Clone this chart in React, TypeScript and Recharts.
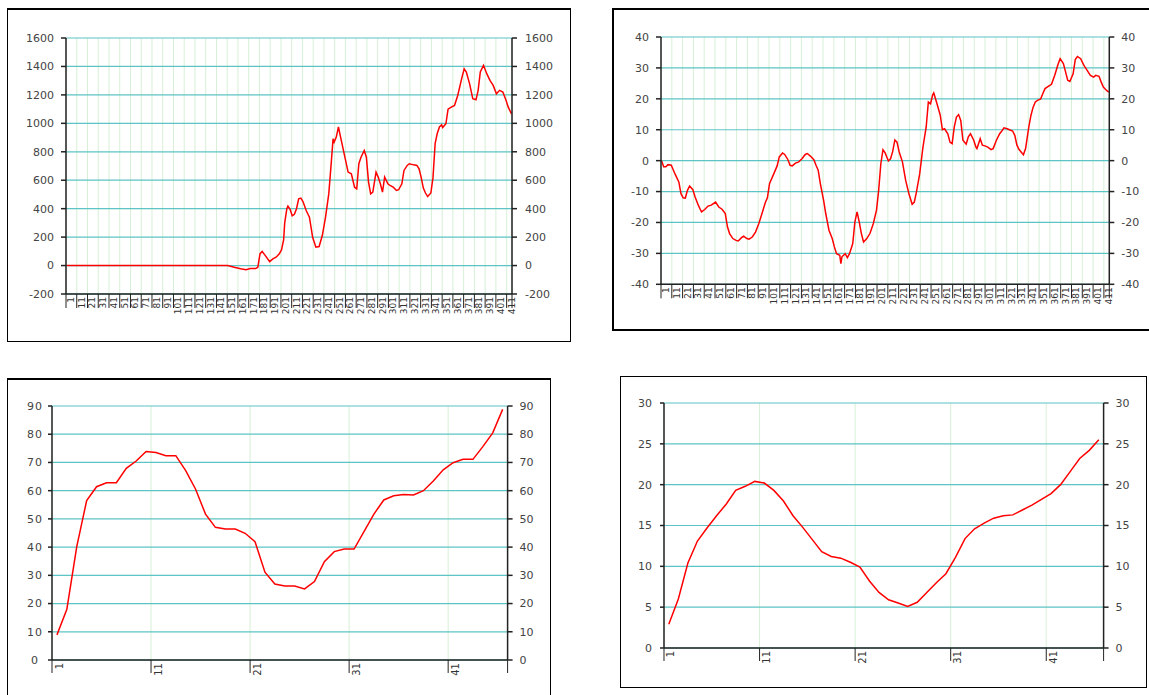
import React from 'react';
import { LineChart, Line, XAxis, YAxis, CartesianGrid } from 'recharts';

// ---------- data ----------
const tlIdx = [1, 151, 157, 163, 168, 172, 177, 179, 181, 183, 186, 190, 193, 196, 199, 201, 203, 204, 206, 207, 209, 211, 213, 215, 217, 219, 221, 224, 227, 230, 233, 236, 239, 242, 245, 247, 249, 250, 252, 254, 256, 260, 263, 266, 269, 271, 273, 275, 278, 280, 282, 284, 286, 289, 291, 293, 295, 297, 300, 302, 305, 308, 310, 313, 315, 318, 320, 324, 327, 329, 331, 333, 335, 337, 340, 342, 344, 346, 348, 350, 351, 354, 356, 359, 362, 365, 369, 371, 373, 376, 379, 382, 384, 386, 389, 392, 395, 398, 401, 404, 407, 410, 412, 415];
const tlVal = [0, 0, -12, -23, -30, -21, -21, -12, 82, 100, 70, 28, 47, 59, 82, 110, 180, 300, 400, 418, 395, 350, 360, 400, 469, 474, 450, 387, 340, 199, 129, 134, 211, 340, 504, 692, 891, 868, 903, 974, 903, 762, 657, 645, 551, 540, 716, 762, 809, 762, 587, 504, 516, 657, 622, 575, 516, 622, 575, 563, 551, 528, 533, 575, 669, 704, 716, 708, 704, 680, 620, 545, 510, 485, 510, 620, 860, 930, 975, 990, 970, 997, 1100, 1114, 1126, 1196, 1325, 1384, 1361, 1279, 1173, 1166, 1232, 1361, 1408, 1349, 1302, 1267, 1208, 1232, 1220, 1161, 1114, 1067];

const trIdx = [1, 3, 5, 7, 10, 12, 14, 17, 19, 21, 23, 25, 27, 30, 32, 35, 38, 41, 44, 47, 51, 54, 57, 60, 62, 64, 67, 70, 72, 75, 77, 80, 82, 85, 88, 91, 94, 97, 99, 101, 105, 108, 110, 113, 115, 118, 120, 122, 125, 128, 131, 134, 136, 139, 142, 144, 146, 148, 151, 153, 156, 159, 161, 163, 166, 167, 168, 171, 173, 175, 178, 180, 182, 184, 186, 188, 191, 194, 197, 200, 202, 204, 206, 208, 211, 213, 215, 217, 219, 221, 224, 227, 230, 233, 235, 237, 240, 243, 246, 248, 250, 252, 253, 256, 259, 261, 263, 266, 268, 270, 272, 274, 276, 278, 280, 283, 285, 287, 290, 292, 293, 296, 298, 301, 303, 306, 308, 311, 314, 316, 318, 321, 323, 326, 328, 330, 332, 335, 336, 338, 341, 343, 345, 347, 349, 352, 354, 356, 359, 362, 365, 368, 370, 373, 375, 377, 379, 382, 384, 386, 389, 392, 395, 398, 401, 403, 406, 408, 410, 413, 415];
const trVal = [0, -2, -2, -1.3, -1.5, -3.1, -4.7, -6.9, -10.7, -12, -12.1, -9.6, -8.2, -9.4, -11.7, -14.4, -16.6, -15.8, -14.7, -14.4, -13.4, -15, -15.7, -17.1, -21.4, -23.6, -25.2, -25.8, -26, -24.9, -24.4, -25.2, -25.4, -24.7, -23.1, -20.4, -17.1, -13.6, -12, -7.4, -4.2, -1.7, 1.2, 2.5, 2, 0.3, -1.5, -1.7, -0.8, -0.4, 0.6, 2, 2.3, 1.4, 0.3, -1.5, -3.1, -7.4, -12.8, -17.1, -22.5, -25.2, -27.9, -30.1, -30.6, -33.3, -31.1, -30.1, -31.4, -30.1, -26.8, -19.8, -16.6, -19.8, -23.6, -26.3, -25.2, -23.5, -20.4, -16, -9.6, -1, 3.5, 2.5, -0.1, 0.6, 3, 6.7, 6, 2.8, -0.4, -6.4, -10.7, -14.1, -13.4, -10.1, -4.2, 4.4, 10.9, 19, 18.4, 21.3, 21.9, 18.4, 14.7, 10, 10.3, 8.7, 6, 5.5, 10.9, 14.1, 14.9, 13, 6.6, 5.3, 7.7, 8.7, 6.6, 4.4, 3.9, 7.1, 5, 4.7, 4.4, 3.6, 3.9, 6.6, 8.7, 9.6, 10.6, 10.3, 10, 9.6, 8.2, 5, 3.6, 2.3, 1.9, 3.9, 10.9, 14.7, 17.3, 19, 19.5, 20, 21.7, 23.3, 24, 24.7, 27.6, 31.1, 33, 31.4, 28.7, 26, 25.6, 28.1, 32.7, 33.7, 33, 30.8, 29.2, 27.6, 27, 27.6, 27.3, 25.4, 23.8, 22.7, 22.2];

const blVal = [8.9, 18.0, 40.2, 56.5, 61.4, 62.8, 62.8, 67.9, 70.5, 73.9, 73.5, 72.4, 72.4, 67.1, 60.5, 51.7, 47.0, 46.4, 46.4, 44.9, 41.9, 31.1, 26.9, 26.2, 26.2, 25.2, 27.8, 34.8, 38.4, 39.3, 39.3, 45.5, 51.7, 56.7, 58.2, 58.6, 58.5, 60.0, 63.4, 67.4, 69.9, 71.1, 71.1, 75.6, 80.5, 88.8];
const brVal = [2.9, 6.0, 10.4, 13.1, 14.7, 16.2, 17.6, 19.3, 19.8, 20.4, 20.2, 19.3, 18.0, 16.2, 14.8, 13.3, 11.8, 11.2, 11.0, 10.5, 9.9, 8.2, 6.8, 5.9, 5.5, 5.1, 5.6, 6.8, 8.0, 9.1, 11.1, 13.4, 14.6, 15.3, 15.9, 16.2, 16.3, 16.9, 17.5, 18.2, 18.9, 20.0, 21.6, 23.2, 24.2, 25.5];

const topCount = 415;
const bottomCount = 46;
const topTickCats = [1, 11, 21, 31, 41, 51, 61, 71, 81, 91, 101, 111, 121, 131, 141, 151, 161, 171, 181, 191, 201, 211, 221, 231, 241, 251, 261, 271, 281, 291, 301, 311, 321, 331, 341, 351, 361, 371, 381, 391, 401, 411];
const bottomTickCats = [1, 11, 21, 31, 41];

const tlYTicks = [-200, 0, 200, 400, 600, 800, 1000, 1200, 1400, 1600];
const trYTicks = [-40, -30, -20, -10, 0, 10, 20, 30, 40];
const blYTicks = [0, 10, 20, 30, 40, 50, 60, 70, 80, 90];
const brYTicks = [0, 5, 10, 15, 20, 25, 30];

// ---------- helpers ----------
const FONT = 'DejaVu Sans, Verdana, sans-serif';
const RED = '#ff0000';
const HGRID = '#5cc4c4';
const VGRID = '#d6f0d6';
const AXIS = '#222';

const zip = (idx: number[], vals: number[]) => idx.map((c, k) => ({ pos: c - 0.5, v: vals[k] }));
const seq = (vals: number[]) => vals.map((v, k) => ({ pos: k + 0.5, v }));

const tlData = zip(tlIdx, tlVal);
const trData = zip(trIdx, trVal);
const blData = seq(blVal);
const brData = seq(brVal);

function makeXTick(fs: number, dx: number, len: number) {
  return (props: any) => {
    const { x, y, payload } = props;
    const pos = payload.value;
    const label = topTickCats.includes(pos + 1) ? String(pos + 1) : '';
    const ax = x + dx;
    const ay = y + 3;
    return (
      <g>
        <line x1={x} y1={y} x2={x} y2={y + len} stroke={AXIS} strokeWidth={1} />
        {label && (
          <text x={ax} y={ay} transform={`rotate(-90 ${ax} ${ay})`} textAnchor="end" fontSize={fs} fill="#333" fontFamily={FONT}>
            {label}
          </text>
        )}
      </g>
    );
  };
}

const centeredYTick = (offset: number) => (props: any) => {
  const { x, y, payload } = props;
  return (
    <text x={x - offset} y={y} dy="0.355em" textAnchor="middle" fontSize={11} fill="#444" fontFamily={FONT} letterSpacing={1}>
      {payload.value}
    </text>
  );
};

type PanelProps = {
  data: { pos: number; v: number }[];
  plot: [number, number, number, number];
  count: number;
  tickCats: number[];
  yTicks: number[];
  xfs: number;
  xdx: number;
  xlen: number;
  leftTick?: any;
  leftTickSize: number;
  leftTickMargin: number;
  rightTickMargin: number;
};

function Panel(p: PanelProps) {
  const [pl, pt, pr, pb] = p.plot;
  const side = 70;
  const w = pr - pl + side * 2;
  const h = pb - pt + 10 + 40;
  const xTicks = [...p.tickCats.map((c) => c - 1), p.count];
  const dom: [number, number] = [p.yTicks[0], p.yTicks[p.yTicks.length - 1]];
  const tickStyle = { fontSize: 11, fill: '#444', fontFamily: FONT };
  return (
    <div style={{ position: 'absolute', left: pl - side, top: pt - 10, width: w, height: h }}>
      <LineChart width={w} height={h} data={p.data} margin={{ top: 10, right: 0, bottom: 0, left: 0 }}>
        <CartesianGrid yAxisId="l" vertical={true} horizontal={false} stroke={VGRID} strokeWidth={1} />
        <CartesianGrid yAxisId="l" vertical={false} horizontal={true} stroke={HGRID} strokeWidth={1.2} />
        <XAxis
          dataKey="pos"
          type="number"
          domain={[0, p.count]}
          ticks={xTicks}
          interval={0}
          height={40}
          tickSize={0}
          tickMargin={0}
          tickLine={false}
          axisLine={{ stroke: AXIS, strokeWidth: 1.5 }}
          tick={makeXTick(p.xfs, p.xdx, p.xlen)}
          allowDataOverflow
        />
        <YAxis
          yAxisId="l"
          orientation="left"
          width={side}
          domain={dom}
          ticks={p.yTicks}
          interval={0}
          tickSize={p.leftTickSize}
          tickMargin={p.leftTickMargin}
          axisLine={{ stroke: AXIS, strokeWidth: 1.5 }}
          tickLine={{ stroke: AXIS, strokeWidth: 1.5 }}
          tick={p.leftTick ? p.leftTick : tickStyle}
          allowDataOverflow
        />
        <YAxis
          yAxisId="r"
          orientation="right"
          width={side}
          domain={dom}
          ticks={p.yTicks}
          interval={0}
          tickSize={5}
          tickMargin={p.rightTickMargin}
          axisLine={{ stroke: AXIS, strokeWidth: 1.5 }}
          tickLine={{ stroke: AXIS, strokeWidth: 1.5 }}
          tick={tickStyle}
          allowDataOverflow
        />
        <Line yAxisId="l" dataKey="v" type="linear" stroke={RED} strokeWidth={1.5} dot={false} isAnimationActive={false} />
      </LineChart>
    </div>
  );
}

const box = (left: number, top: number, width: number, height: number, extra: React.CSSProperties = {}): React.CSSProperties => ({
  position: 'absolute',
  left,
  top,
  width,
  height,
  boxSizing: 'border-box',
  border: '1px solid #000',
  background: '#fff',
  ...extra,
});

export default function App() {
  return (
    <div style={{ position: 'fixed', left: 0, top: 0, width: 1149, height: 695, overflow: 'hidden', background: '#fff', fontFamily: FONT }}>
      <div style={box(7, 8, 564, 334, { borderTopWidth: 2 })} />
      <div style={box(612, 8, 560, 323, { borderTopWidth: 2, borderLeftWidth: 2, borderBottomWidth: 2 })} />
      <div style={box(7, 378, 544, 340, { borderTopWidth: 2 })} />
      <div style={box(620, 376, 527, 312)} />

      <Panel data={tlData} plot={[65.7, 37.7, 511.7, 293.7]} count={topCount} tickCats={topTickCats} yTicks={tlYTicks}
        xfs={9} xdx={8} xlen={14} leftTickSize={5} leftTickMargin={7} rightTickMargin={8} />
      <Panel data={trData} plot={[661, 36.7, 1109.3, 284]} count={topCount} tickCats={topTickCats} yTicks={trYTicks}
        xfs={9} xdx={8} xlen={14} leftTickSize={5} leftTickMargin={7} rightTickMargin={7} />
      <Panel data={blData} plot={[51.7, 406, 507.3, 660]} count={bottomCount} tickCats={bottomTickCats} yTicks={blYTicks}
        xfs={10} xdx={11} xlen={13} leftTick={centeredYTick(13)} leftTickSize={4} leftTickMargin={0} rightTickMargin={7} />
      <Panel data={brData} plot={[663.7, 403.3, 1103.3, 648.3]} count={bottomCount} tickCats={bottomTickCats} yTicks={brYTicks}
        xfs={10} xdx={10.5} xlen={13} leftTickSize={4} leftTickMargin={8} rightTickMargin={7} />
    </div>
  );
}
